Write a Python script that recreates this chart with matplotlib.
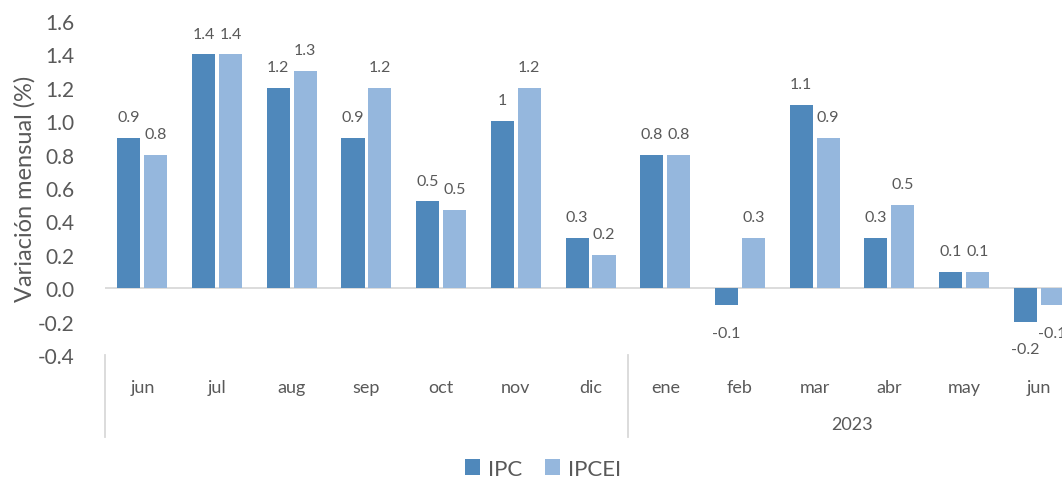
import matplotlib
matplotlib.use("Agg")
import matplotlib.pyplot as plt
import matplotlib.transforms as mtransforms
import numpy as np

months = ["jun", "jul", "aug", "sep", "oct", "nov", "dic",
          "ene", "feb", "mar", "abr", "may", "jun"]
year_label = "2023"
ipc = [0.9, 1.4, 1.2, 0.9, 0.52, 1.0, 0.3, 0.8, -0.1, 1.1, 0.3, 0.1, -0.2]
ipcei = [0.8, 1.4, 1.3, 1.2, 0.47, 1.2, 0.2, 0.8, 0.3, 0.9, 0.5, 0.1, -0.1]
series_names = ["IPC", "IPCEI"]
yticks = [-0.4, -0.2, 0.0, 0.2, 0.4, 0.6, 0.8, 1.0, 1.2, 1.4, 1.6]

c_ipc = "#4F88BB"
c_ipcei = "#95B7DD"
txt = "#595959"
FONT = ["Lato", "DejaVu Sans"]
plt.rcParams["font.family"] = FONT

W, H = 1062, 481
fig = plt.figure(figsize=(W / 100, H / 100), dpi=100)
ax_left = 105 / W
ax_w = 13 * 74.7 / W
ax_bot = 1 - 356 / H
ax_h = (356 - 22) / H
ax = fig.add_axes([ax_left, ax_bot, ax_w, ax_h])

x = np.arange(len(months))
bw = 0.31
off = 0.18
b1 = ax.bar(x - off, ipc, bw, color=c_ipc, label=series_names[0], zorder=2)
b2 = ax.bar(x + off, ipcei, bw, color=c_ipcei, label=series_names[1], zorder=2)

def lab(v):
    return f"{round(v, 1):g}"

for bars, vals in ((b1, ipc), (b2, ipcei)):
    for rect, v in zip(bars, vals):
        cx = rect.get_x() + rect.get_width() / 2
        dy = 15 if v >= 0 else -20
        ax.annotate(lab(v), (cx, v), xytext=(0, dy), textcoords="offset points",
                    ha="center", va="center", fontsize=11.5, color=txt,
                    annotation_clip=False)

ax.set_xlim(-0.5, len(months) - 0.5)
ax.set_ylim(-0.4, 1.6)
ax.set_yticks(yticks)
ax.set_yticklabels([f"{t:.1f}" for t in yticks], fontsize=15, color=txt)
ax.set_xticks(x)
ax.set_xticklabels(months, fontsize=13, color=txt)
ax.tick_params(axis="both", length=0)
ax.tick_params(axis="x", pad=17)
ax.tick_params(axis="y", pad=22)
for s in ax.spines.values():
    s.set_visible(False)
ax.axhline(0, color="#D9D9D9", lw=1.3, zorder=1)

ax.set_ylabel("Variación mensual (%)", fontsize=17, color=txt)
ax.yaxis.set_label_coords(-0.072, 0.5)

trans = mtransforms.blended_transform_factory(ax.transData, ax.transAxes)
for xs in (-0.5, 6.5):
    ax.plot([xs, xs], [0, -0.245], transform=trans, color="#D9D9D9", lw=1.3,
            clip_on=False)
ax.text((7 + 12) / 2, -0.207, year_label, transform=trans, ha="center", va="center",
        fontsize=13, color=txt)

leg = fig.legend(handles=[b1, b2], labels=series_names, loc="center",
                 bbox_to_anchor=(543 / W, 1 - 470 / H), ncol=2, frameon=False,
                 fontsize=16, handlelength=0.7, handleheight=0.7,
                 handletextpad=0.35, columnspacing=1.0, labelcolor=txt)

fig.savefig("out.png", dpi=100)
